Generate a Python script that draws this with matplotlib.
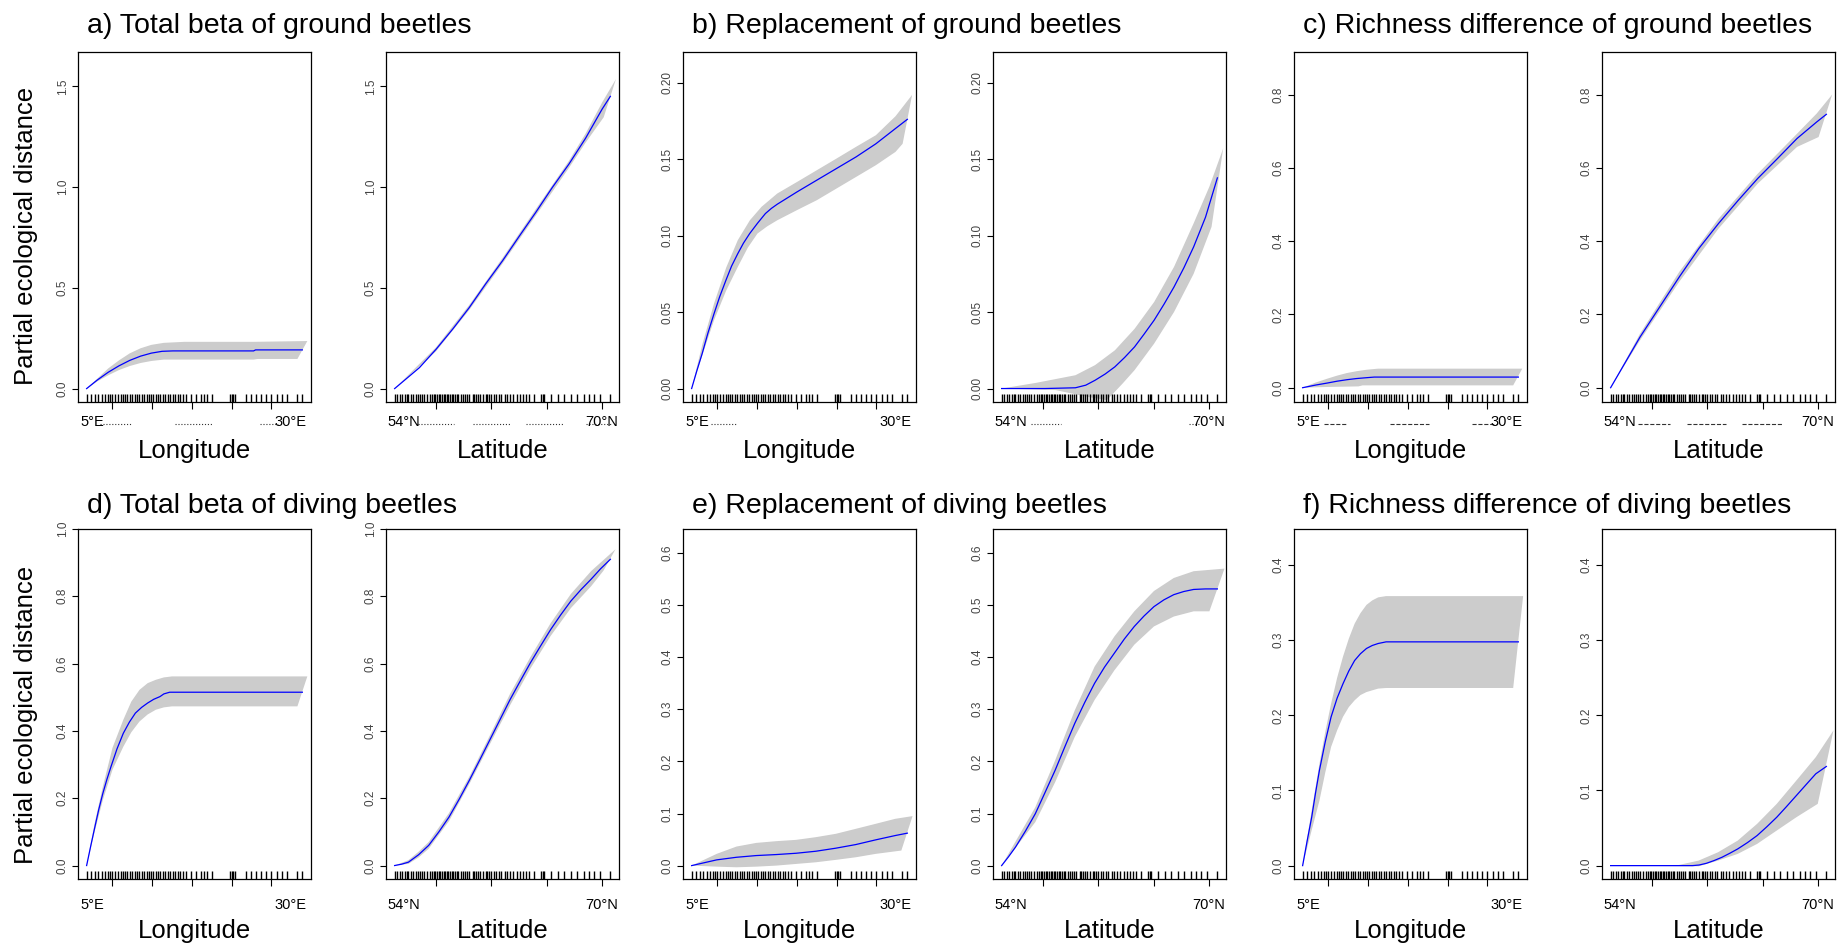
import numpy as np
import matplotlib.pyplot as plt
from matplotlib.transforms import blended_transform_factory

plt.rcParams['font.family'] = ['Liberation Sans', 'DejaVu Sans']

W, H = 1843, 947

# gradient extents (degrees) and unlabeled axis ticks
LON_MIN, LON_MAX = 4.8, 31.9
LAT_MIN, LAT_MAX = 54.0, 69.6
LON_TICKS = [8, 13, 18, 23, 28]
LAT_TICKS = [57, 61, 65, 69]
LON_LABELS = [(5.53, "5°E"), (30.35, "30°E")]
LAT_LABELS = [(54.67, "54°N"), (69.0, "70°N")]

# site positions (rug)
LON_RUG = [4.8, 5.33, 5.86, 6.26, 6.67, 7.08, 7.48, 7.78, 7.97, 8.38, 8.70, 9.11, 9.41, 9.60,
           9.92, 10.22, 10.55, 10.82, 11.14, 11.44, 11.71, 12.04, 12.36, 12.66, 12.93, 13.17,
           13.47, 13.74, 14.07, 14.39, 14.69, 14.96, 15.29, 15.69, 15.91, 16.32, 16.59, 16.91,
           17.32, 17.94, 18.57, 19.16, 19.57, 19.98, 20.60, 22.82, 23.04, 23.23, 23.44, 24.85,
           25.48, 26.07, 26.70, 27.29, 27.92, 28.73, 29.33, 29.95, 31.17, 31.9]
LAT_RUG = [54.00, 54.19, 54.38, 54.55, 54.72, 54.86, 54.96, 55.15, 55.34, 55.51, 55.67, 55.82,
           55.98, 56.15, 56.34, 56.58, 56.70, 56.82, 56.94, 57.06, 57.18, 57.30, 57.42, 57.54,
           57.66, 57.77, 57.89, 58.01, 58.13, 58.25, 58.37, 58.49, 58.61, 58.78, 58.92, 59.09,
           59.26, 59.40, 59.64, 59.73, 59.88, 60.04, 60.16, 60.40, 60.59, 60.69, 60.83, 61.00,
           61.17, 61.36, 61.55, 61.72, 61.96, 62.12, 62.36, 62.55, 62.84, 63.03, 63.27, 63.51,
           63.75, 64.11, 64.58, 64.70, 64.82, 65.30, 65.78, 66.26, 66.73, 67.21, 67.69, 68.05,
           68.41, 68.88, 69.60]

TITLES = ["a) Total beta of ground beetles", "b) Replacement of ground beetles",
          "c) Richness difference of ground beetles", "d) Total beta of diving beetles",
          "e) Replacement of diving beetles", "f) Richness difference of diving beetles"]

# splines: (position along gradient 0..1, partial ecological distance)
A_LON_LINE = ([0, .05, .1, .15, .2, .25, .3, .35, .4, .774, .783, 1.0],
              [0, .043, .081, .113, .14, .161, .176, .185, .187, .187, .192, .192])
A_LON_UPPER = ([0, .05, .1, .15, .2, .25, .3, .358, .453, .774, 1.023],
               [0, .05, .1, .14, .175, .2, .217, .227, .232, .232, .236])
A_LON_LOWER = ([0, .05, .1, .15, .2, .25, .3, .358, .774, .792, .977],
               [0, .036, .066, .092, .112, .127, .137, .144, .144, .147, .147])
A_LAT_LINE = ([0, .115, .192, .269, .346, .423, .5, .577, .654, .731, .808, .885, .962, 1.0],
              [0, .104, .195, .295, .402, .521, .634, .755, .874, .998, 1.114, 1.242, 1.387, 1.45])
A_LAT_UPPER = ([0, .192, .346, .5, .654, .808, .885, .962, 1.026],
               [0, .205, .415, .648, .89, 1.13, 1.265, 1.42, 1.536])
A_LAT_LOWER = ([0, .192, .346, .5, .654, .808, .885, .969],
               [0, .185, .39, .62, .858, 1.095, 1.22, 1.346])

B_LON_LINE = ([0, .025, .049, .075, .104, .13, .159, .185, .214, .24, .269, .305, .342, .37, .397,
               .488, .580, .671, .762, .854, .945, 1.0],
              [0, .012, .0229, .036, .049, .060, .0708, .080, .0882, .095, .1013, .108, .1144, .1178,
               .1205, .1285, .1362, .1438, .1514, .160, .170, .176])
B_LON_UPPER = ([0, .05, .104, .16, .214, .27, .324, .397, .488, .580, .671, .762, .854, .945, 1.022],
               [0, .029, .0556, .079, .097, .110, .1188, .1275, .135, .1427, .1503, .158, .1656, .178, .192])
B_LON_LOWER = ([0, .05, .104, .16, .214, .26, .305, .35, .397, .488, .580, .671, .762, .854, .945, .978],
               [0, .022, .0447, .064, .0795, .092, .1013, .106, .11, .1166, .1231, .1307, .1383, .146,
                .1547, .16])
B_LAT_LINE = ([0, .2, .342, .39, .433, .48, .525, .57, .616, .66, .707, .753, .799, .845, .890, .945, 1.0],
              [0, 0, .0005, .0022, .0054, .0095, .0142, .0203, .0272, .0355, .0447, .0552, .0664, .079,
               .0926, .112, .1377])
B_LAT_UPPER = ([0, .159, .342, .433, .525, .616, .707, .799, .890, .963, 1.027],
               [0, .0037, .0087, .0153, .025, .039, .0566, .0795, .108, .132, .157])
B_LAT_LOWER = ([0, .250, .397, .488, .561, .616, .707, .799, .890, .973],
               [0, -.001, -.0054, -.0076, .0033, .012, .0294, .050, .075, .1057])

C_LON_LINE = ([0, .06, .114, .16, .205, .25, .296, .332, 1.0], [0, .0072, .0127, .0178, .0218, .025, .0273, .029, .029])
C_LON_UPPER = ([0, .06, .114, .16, .205, .25, .296, .350, 1.018], [0, .014, .0246, .033, .04, .045, .049, .052, .052])
C_LON_LOWER = ([0, .114, .259, .278, .976], [0, .002, .0036, .0064, .0064])
C_LAT_LINE = ([0, .136, .227, .318, .409, .5, .591, .682, .773, .864, .955, 1.0],
              [0, .138, .22, .302, .38, .448, .511, .571, .625, .68, .725, .746])
C_LAT_UPPER = ([0, .136, .318, .5, .682, .864, .955, 1.027], [0, .147, .316, .461, .584, .693, .748, .80])
C_LAT_LOWER = ([0, .136, .318, .5, .682, .864, .964], [0, .129, .289, .434, .557, .657, .684])

D_LON_LINE = ([0, .019, .038, .056, .075, .094, .113, .141, .17, .198, .226, .255, .283, .311, .34, .358, .385, 1.0],
              [0, .058, .114, .166, .214, .256, .294, .347, .393, .426, .453, .47, .483, .494, .502, .51, .515, .515])
D_LON_UPPER = ([0, .037, .075, .12, .17, .207, .245, .283, .321, .358, .396, 1.023],
               [0, .125, .234, .35, .433, .487, .522, .542, .552, .559, .562, .562])
D_LON_LOWER = ([0, .037, .075, .12, .17, .207, .245, .283, .321, .358, .396, .977],
               [0, .1, .194, .285, .353, .396, .428, .449, .463, .47, .473, .473])
D_LAT_LINE = ([0, .032, .064, .111, .158, .205, .252, .3, .347, .394, .441, .488, .535, .582, .629, .676,
               .723, .77, .817, .864, .911, .955, 1.0],
              [0, .004, .01, .032, .06, .1, .144, .198, .254, .313, .373, .433, .493, .548, .602, .652,
               .701, .745, .786, .82, .851, .882, .910])
D_LAT_UPPER = ([0, .064, .111, .158, .252, .347, .441, .535, .629, .723, .817, .911, 1.024],
               [0, .016, .041, .07, .156, .265, .386, .51, .619, .72, .807, .875, .94])
D_LAT_LOWER = ([0, .064, .111, .158, .252, .347, .441, .535, .629, .723, .817, .911, .968],
               [0, .005, .024, .05, .132, .243, .36, .476, .585, .682, .765, .83, .876])

E_LON_LINE = ([0, .116, .208, .300, .392, .484, .576, .668, .761, .853, .945, 1.0],
              [0, .011, .016, .0193, .0212, .0237, .0276, .0334, .0404, .0494, .0578, .0623])
E_LON_UPPER = ([0, .116, .208, .300, .392, .484, .576, .668, .761, .853, .945, 1.024],
               [0, .0225, .0366, .0436, .0469, .0494, .0546, .061, .0706, .0802, .0899, .095])
E_LON_LOWER = ([0, .116, .208, .300, .392, .484, .576, .668, .761, .853, .972],
               [0, -.002, -.0032, -.002, 0, .0032, .0064, .011, .016, .0225, .0289])
E_LAT_LINE = ([0, .032, .064, .11, .156, .202, .248, .294, .339, .385, .431, .477, .523, .569, .615, .66,
               .706, .752, .798, .844, .890, .945, 1.0],
              [0, .017, .0353, .066, .0995, .141, .183, .229, .273, .313, .35, .381, .408, .435, .459, .479,
               .497, .51, .52, .526, .53, .531, .531])
E_LAT_UPPER = ([0, .156, .248, .339, .431, .523, .615, .706, .798, .890, 1.033],
               [0, .112, .202, .298, .382, .44, .488, .527, .552, .565, .57])
E_LAT_LOWER = ([0, .156, .248, .339, .431, .523, .615, .706, .798, .890, .963],
               [0, .0834, .16, .247, .318, .375, .424, .459, .478, .488, .488])

F_LON_LINE = ([0, .021, .042, .06, .078, .105, .132, .16, .187, .214, .241, .268, .296, .323, .350, .387, 1.0],
              [0, .033, .0644, .097, .127, .165, .198, .223, .242, .259, .273, .282, .289, .293, .2956, .2978, .2978])
F_LON_UPPER = ([0, .04, .078, .105, .132, .16, .187, .214, .241, .268, .296, .323, .350, .387, 1.022],
               [0, .07, .1356, .178, .2156, .25, .278, .302, .322, .336, .347, .353, .357, .3587, .3587])
F_LON_LOWER = ([0, .04, .078, .105, .132, .16, .187, .214, .241, .268, .296, .350, .387, .976],
               [0, .045, .0867, .124, .158, .18, .198, .211, .22, .227, .231, .2356, .2364, .2364])
F_LAT_LINE = ([0, .38, .41, .444, .48, .516, .552, .589, .634, .679, .724, .770, .815, .861, .906, .951, 1.0],
              [0, 0, .0008, .0031, .0068, .0111, .0164, .0222, .0306, .04, .0517, .0644, .0785, .0933, .1078,
               .1222, .132])
F_LAT_UPPER = ([0, .317, .408, .498, .589, .679, .770, .861, .951, 1.033],
               [0, .0009, .0067, .0178, .0333, .0556, .0822, .1133, .1444, .18])
F_LAT_LOWER = ([0, .408, .498, .589, .679, .770, .861, .960],
               [0, -.0009, .0067, .0156, .0289, .0467, .0644, .0822])

Y_TICKS = {"a": [0, 0.5, 1.0, 1.5], "b": [0, 0.05, 0.10, 0.15, 0.20], "c": [0, 0.2, 0.4, 0.6, 0.8],
           "d": [0, 0.2, 0.4, 0.6, 0.8, 1.0], "e": [0, 0.1, 0.2, 0.3, 0.4, 0.5, 0.6],
           "f": [0, 0.1, 0.2, 0.3, 0.4]}
Y_LIMS = {"a": (-0.0665, 1.67), "b": (-0.0088, 0.220), "c": (-0.039, 0.916),
          "d": (-0.04, 1.0), "e": (-0.0257, 0.646), "f": (-0.0178, 0.448)}
Y_FMT = {"a": "{:.1f}", "b": "{:.2f}", "c": "{:.1f}", "d": "{:.1f}", "e": "{:.1f}", "f": "{:.1f}"}

PANELS = [
    ("a", A_LON_LINE, A_LON_UPPER, A_LON_LOWER, A_LAT_LINE, A_LAT_UPPER, A_LAT_LOWER),
    ("b", B_LON_LINE, B_LON_UPPER, B_LON_LOWER, B_LAT_LINE, B_LAT_UPPER, B_LAT_LOWER),
    ("c", C_LON_LINE, C_LON_UPPER, C_LON_LOWER, C_LAT_LINE, C_LAT_UPPER, C_LAT_LOWER),
    ("d", D_LON_LINE, D_LON_UPPER, D_LON_LOWER, D_LAT_LINE, D_LAT_UPPER, D_LAT_LOWER),
    ("e", E_LON_LINE, E_LON_UPPER, E_LON_LOWER, E_LAT_LINE, E_LAT_UPPER, E_LAT_LOWER),
    ("f", F_LON_LINE, F_LON_UPPER, F_LON_LOWER, F_LAT_LINE, F_LAT_UPPER, F_LAT_LOWER),
]

# layout in pixels
COL_LEFT = [78, 386, 683, 993, 1294, 1602]
ROW_TOP = [52, 529]
AX_W, AX_H = 233, 350
TITLE_BASE = [33, 513]
TICKLAB_BASE = [426, 909]
XLAB_BASE = [458, 938]
YLAB_Y = [236, 715]

# leftover dotted/dashed marks beside the tick labels in the top row (px from frame left)
SMUDGE = {("a", "lon"): ([(22, 53), (97, 135), (182, 200)], ":"),
          ("a", "lat"): ([(32, 68), (87, 125), (140, 178), (200, 226)], ":"),
          ("b", "lon"): ([(28, 54)], ":"),
          ("b", "lat"): ([(38, 68), (196, 208)], ":"),
          ("c", "lon"): ([(30, 53), (96, 135), (178, 202)], "--"),
          ("c", "lat"): ([(36, 68), (85, 124), (140, 181)], "--")}


def fx(px):
    return px / W


def fy(px):
    return 1 - px / H


fig = plt.figure(figsize=(W / 100, H / 100), dpi=100)


def draw(ax, key, kind, line, upper, lower, row):
    if kind == "lon":
        lo, hi, ticks, rug, labels, xlab = LON_MIN, LON_MAX, LON_TICKS, LON_RUG, LON_LABELS, "Longitude"
    else:
        lo, hi, ticks, rug, labels, xlab = LAT_MIN, LAT_MAX, LAT_TICKS, LAT_RUG, LAT_LABELS, "Latitude"
    span = hi - lo
    ux = lo + span * np.array(upper[0])
    lx = lo + span * np.array(lower[0])
    ax.fill(np.r_[ux, lx[::-1]], np.r_[upper[1], lower[1][::-1]], color="#CCCCCC", lw=0, zorder=1)
    ax.plot(lo + span * np.array(line[0]), line[1], color="#0000FF", lw=0.9, zorder=3)
    ax.vlines(rug, 0, 0.024, transform=ax.get_xaxis_transform(), color="black", lw=1.0, zorder=2)

    ax.set_xlim(lo - 0.04 * span, hi + 0.04 * span)
    ax.set_ylim(*Y_LIMS[key])
    ax.set_xticks(ticks)
    ax.set_xticklabels([])
    ax.set_yticks(Y_TICKS[key])
    ax.set_yticklabels([Y_FMT[key].format(v) for v in Y_TICKS[key]], rotation=90,
                       va="center", fontsize=8.5, color="#444444")
    ax.tick_params(axis="x", direction="out", length=5, width=0.8)
    ax.tick_params(axis="y", direction="out", length=4.3, width=0.8, pad=2.5)
    for sp in ax.spines.values():
        sp.set_linewidth(0.9)

    bottom = ROW_TOP[row] + AX_H
    tr = blended_transform_factory(ax.transData, ax.transAxes)
    yb = -(TICKLAB_BASE[row] - bottom) / AX_H
    for x, s in labels:
        ax.text(x, yb, s, transform=tr, ha="center", va="baseline", fontsize=10.5)
    ax.text(0.5, -(XLAB_BASE[row] - bottom) / AX_H, xlab, transform=ax.transAxes,
            ha="center", va="baseline", fontsize=18.5)

    if (key, kind) in SMUDGE:
        segs, ls = SMUDGE[(key, kind)]
        ys = -(TICKLAB_BASE[row] - 2 - bottom) / AX_H
        for a, b in segs:
            ax.plot([a / AX_W, b / AX_W], [ys, ys], transform=ax.transAxes, clip_on=False,
                    color="#333333", lw=0.8, ls=ls)


for i, (key, lon_line, lon_up, lon_lo, lat_line, lat_up, lat_lo) in enumerate(PANELS):
    row, pair = divmod(i, 3)
    top = ROW_TOP[row]
    for j, (kind, line, up, low) in enumerate([("lon", lon_line, lon_up, lon_lo),
                                               ("lat", lat_line, lat_up, lat_lo)]):
        left = COL_LEFT[2 * pair + j]
        ax = fig.add_axes([fx(left), fy(top + AX_H), AX_W / W, AX_H / H])
        draw(ax, key, kind, line, up, low, row)
    fig.text(fx(COL_LEFT[2 * pair] + 9), fy(TITLE_BASE[row]), TITLES[i],
             ha="left", va="baseline", fontsize=20.5)

for row in range(2):
    fig.text(fx(26.5), fy(YLAB_Y[row]), "Partial ecological distance", rotation=90,
             ha="center", va="center", fontsize=18.5)

fig.savefig("out.png", dpi=100)
